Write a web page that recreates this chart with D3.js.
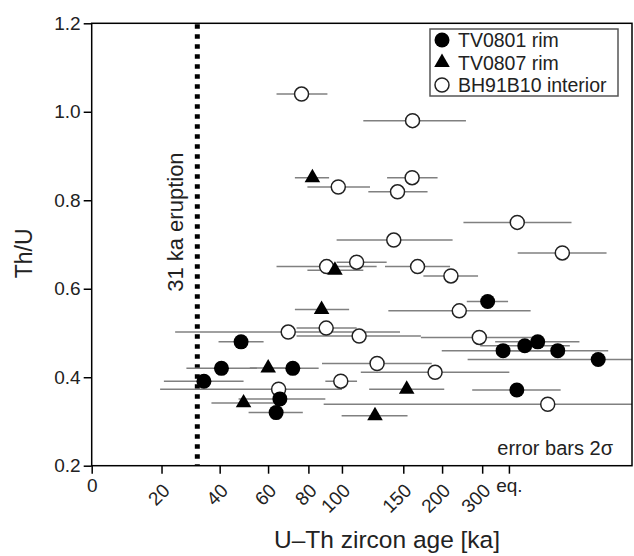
<!DOCTYPE html>
<html>
<head>
<meta charset="utf-8">
<script src="https://cdn.jsdelivr.net/npm/d3@7"></script>
<style>
  body { margin: 0; background: #fff; }
  svg { display: block; font-family: "Liberation Sans", Arial, Helvetica, sans-serif; }
</style>
</head>
<body>
<svg id="chart"></svg>
<script>
// x values are the 230Th/238U ratio relative to equilibrium (0 = zero age, 1 = "eq.")
// lo / hi are the ends of the 2 sigma error bars, same units
const tv0801X  = [0.269, 0.311, 0.358, 0.482, 0.451, 0.442, 0.949, 0.986, 1.038, 1.069, 1.117, 1.214, 1.019]
const tv0801Y  = [0.391, 0.420, 0.480, 0.420, 0.351, 0.320, 0.571, 0.460, 0.471, 0.480, 0.460, 0.440, 0.371]
const tv0801Lo = [0.173, 0.227, 0.304, 0.432, 0.352, 0.376, 0.899, 0.839, 0.931, 0.967, 0.995, 0.901, 0.912]
const tv0801Hi = [0.364, 0.396, 0.412, 0.544, 0.560, 0.506, 0.998, 1.134, 1.146, 1.169, 1.238, 1.527, 1.124]

const tv0807X  = [0.529, 0.583, 0.551, 0.423, 0.364, 0.755, 0.679]
const tv0807Y  = [0.851, 0.642, 0.553, 0.421, 0.342, 0.373, 0.313]
const tv0807Lo = [0.487, 0.517, 0.487, 0.379, 0.287, 0.665, 0.599]
const tv0807Hi = [0.569, 0.651, 0.617, 0.464, 0.448, 0.845, 0.757]

const bh91X  = [0.503, 0.769, 0.591, 0.768, 0.733, 1.020, 0.724, 1.128, 0.781, 0.861, 0.635,
                0.563, 0.881, 0.471, 0.562, 0.641, 0.929, 0.448, 0.597, 0.684, 0.823, 1.093]
const bh91Y  = [1.040, 0.980, 0.830, 0.851, 0.819, 0.750, 0.710, 0.681, 0.650, 0.629, 0.660,
                0.650, 0.550, 0.502, 0.511, 0.493, 0.490, 0.373, 0.391, 0.431, 0.411, 0.339]
const bh91Lo = [0.443, 0.651, 0.517, 0.708, 0.663, 0.891, 0.587, 1.021, 0.703, 0.795, 0.587,
                0.443, 0.711, 0.200, 0.491, 0.491, 0.789, 0.164, 0.560, 0.552, 0.645, 0.556]
const bh91Hi = [0.565, 0.897, 0.667, 0.829, 0.805, 1.150, 0.865, 1.234, 0.859, 0.926, 0.707,
                0.683, 1.052, 0.739, 0.635, 0.789, 1.067, 0.600, 0.636, 0.815, 1.001, 1.628]

const ageTicks = [0, 20, 40, 60, 80, 100, 150, 200, 300]   // ka
const ageLabels = ["0", "20", "40", "60", "80", "100", "150", "200", "300", "eq."]
const thuTicks = [0.2, 0.4, 0.6, 0.8, 1.0, 1.2]
const eruptionAge = 31
const legendNames = ["TV0801 rim", "TV0807 rim", "BH91B10 interior"]

const w = 634
const h = 556
const padLeft = 91.7, padRight = 632, padTop = 23.3, padBottom = 465.7

// 230Th decay constant, 1/ka
const lambda = Math.LN2 / 75.69
const ageToRatio = t => 1 - Math.exp(-lambda * t)

const xScale = d3.scaleLinear().domain([0, 1.295]).range([padLeft, padRight])
const yScale = d3.scaleLinear().domain([0.2, 1.2]).range([padBottom, padTop])

const svg = d3.select("#chart").attr("width", w).attr("height", h)

svg.append("clipPath").attr("id", "plot-clip")
    .append("rect")
    .attr("x", padLeft).attr("y", padTop)
    .attr("width", padRight - padLeft).attr("height", padBottom - padTop)

// eruption line (dotted)
const eruptX = xScale(ageToRatio(eruptionAge)) + 2.5
svg.append("line")
    .attr("x1", eruptX).attr("x2", eruptX)
    .attr("y1", padTop + 1).attr("y2", padBottom)
    .attr("stroke", "#000")
    .attr("stroke-width", 5)
    .attr("stroke-dasharray", "4.5,5.5")

svg.append("text")
    .attr("transform", `translate(${eruptX - 14}, ${yScale(0.593)}) rotate(-90)`)
    .attr("font-size", 22)
    .attr("fill", "#222")
    .text(`${eruptionAge} ka eruption`)

// series
const series = [
    {x: bh91X, y: bh91Y, lo: bh91Lo, hi: bh91Hi, shape: "open"},
    {x: tv0801X, y: tv0801Y, lo: tv0801Lo, hi: tv0801Hi, shape: "dot"},
    {x: tv0807X, y: tv0807Y, lo: tv0807Lo, hi: tv0807Hi, shape: "tri"}
]

const plot = svg.append("g").attr("clip-path", "url(#plot-clip)")

// all error bars first
series.forEach(s => {
    plot.append("g").selectAll("line")
        .data(s.x.map((d, i) => i))
        .enter()
        .append("line")
        .attr("x1", i => xScale(s.lo[i]))
        .attr("x2", i => xScale(s.hi[i]))
        .attr("y1", i => yScale(s.y[i]))
        .attr("y2", i => yScale(s.y[i]))
        .attr("stroke", "#808080")
        .attr("stroke-width", 1.5)
})

const triangle = d3.symbol(d3.symbolTriangle, 105)

function drawMark(sel, shape) {
    if (shape === "tri") {
        sel.append("path").attr("d", triangle).attr("fill", "#000")
    } else {
        sel.append("circle")
            .attr("r", shape === "dot" ? 7.5 : 7)
            .attr("fill", shape === "dot" ? "#000" : "#fff")
            .attr("stroke", "#222")
            .attr("stroke-width", shape === "dot" ? 0 : 1.5)
    }
}

series.forEach(s => {
    const g = plot.append("g").selectAll("g")
        .data(s.x.map((d, i) => i))
        .enter()
        .append("g")
        .attr("transform", i => `translate(${xScale(s.x[i])}, ${yScale(s.y[i])})`)
    drawMark(g, s.shape)
})

// frame
svg.append("rect")
    .attr("x", padLeft).attr("y", padTop)
    .attr("width", padRight - padLeft).attr("height", padBottom - padTop)
    .attr("fill", "none")
    .attr("stroke", "#000")
    .attr("stroke-width", 1.5)

// axes
const yAxis = d3.axisLeft(yScale)
    .tickValues(thuTicks)
    .tickFormat(d3.format(".1f"))
    .tickSize(8)
    .tickPadding(3)
    .tickSizeOuter(0)

const gy = svg.append("g")
    .attr("transform", `translate(${padLeft}, 0)`)
    .call(yAxis)

const xTickVals = ageTicks.map(ageToRatio).concat([1])
const xAxis = d3.axisBottom(xScale)
    .tickValues(xTickVals)
    .tickFormat((d, i) => ageLabels[i])
    .tickSize(8)
    .tickPadding(5)
    .tickSizeOuter(0)

const gx = svg.append("g")
    .attr("transform", `translate(0, ${padBottom})`)
    .call(xAxis)

;[gx, gy].forEach(g => {
    g.select(".domain").remove()
    g.selectAll(".tick line").attr("stroke", "#000").attr("stroke-width", 1.5)
    g.selectAll(".tick text")
        .attr("font-family", "Liberation Sans, Arial, sans-serif")
        .attr("font-size", 19)
        .attr("fill", "#222")
})

// rotated age labels (not "0" and "eq.")
gx.selectAll(".tick text")
    .filter((d, i) => i > 0 && i < ageLabels.length - 1)
    .attr("x", 0).attr("y", 0).attr("dy", null)
    .attr("text-anchor", "end")
    .attr("transform", "translate(9, 26) rotate(-45)")

// axis titles
svg.append("text")
    .attr("x", 274).attr("y", 548)
    .attr("font-size", 24.5)
    .attr("fill", "#222")
    .text("U\u2013Th zircon age [ka]")

svg.append("text")
    .attr("transform", `translate(32, ${yScale(0.68)}) rotate(-90)`)
    .attr("text-anchor", "middle")
    .attr("font-size", 23)
    .attr("fill", "#222")
    .text("Th/U")

svg.append("text")
    .attr("x", 613).attr("y", 455)
    .attr("text-anchor", "end")
    .attr("font-size", 20)
    .attr("fill", "#222")
    .text("error bars 2\u03c3")

// legend
const legend = svg.append("g").attr("transform", "translate(430, 29)")
legend.append("rect")
    .attr("width", 188).attr("height", 67)
    .attr("fill", "#fff")
    .attr("stroke", "#555")
    .attr("stroke-width", 1.5)

const shapes = ["dot", "tri", "open"]
legendNames.forEach((name, i) => {
    const row = legend.append("g").attr("transform", `translate(12, ${11 + i * 22.5})`)
    drawMark(row, shapes[i])
    row.append("text")
        .attr("x", 16).attr("y", 7)
        .attr("font-size", 19.5)
        .attr("fill", "#222")
        .text(name)
})
</script>
</body>
</html>
